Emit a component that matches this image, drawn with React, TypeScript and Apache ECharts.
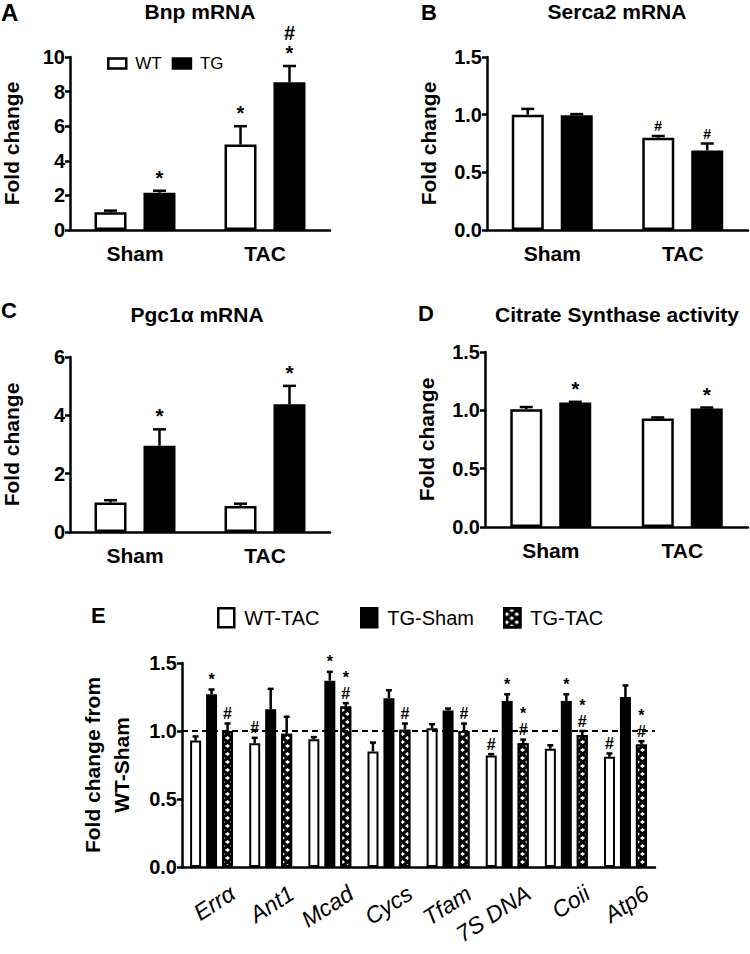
import React, { useEffect, useRef } from 'react';
import * as echarts from 'echarts';

const FONT = '"Liberation Sans", Arial, Helvetica, sans-serif';
const NARROW = '"Liberation Sans Narrow", "Arial Narrow", "Liberation Sans", Arial, sans-serif';

// ---------- Panels A–D ----------
const groups = ['Sham', 'TAC'];

const bnpWT = [1.02, 4.94];
const bnpWTErr = [0.1, 1.06];
const bnpTG = [2.15, 8.54];
const bnpTGErr = [0.12, 0.94];
const bnpWTMarks = ['', '*'];
const bnpTGMarks = ['*', '#\n*'];
const bnpTicks = [0, 2, 4, 6, 8, 10];

const sercaWT = [1.0, 0.8];
const sercaWTErr = [0.05, 0.015];
const sercaTG = [0.995, 0.69];
const sercaTGErr = [0.01, 0.06];
const sercaWTMarks = ['', '#'];
const sercaTGMarks = ['', '#'];
const sercaTicks = [0, 0.5, 1.0, 1.5];

const pgcWT = [1.01, 0.89];
const pgcWTErr = [0.08, 0.08];
const pgcTG = [2.96, 4.38];
const pgcTGErr = [0.56, 0.63];
const pgcWTMarks = ['', ''];
const pgcTGMarks = ['*', '*'];
const pgcTicks = [0, 2, 4, 6];

const csWT = [1.01, 0.93];
const csWTErr = [0.018, 0.009];
const csTG = [1.067, 1.015];
const csTGErr = [0.006, 0.009];
const csWTMarks = ['', ''];
const csTGMarks = ['*', '*'];
const csTicks = [0, 0.5, 1.0, 1.5];

// ---------- Panel E ----------
const genes = ['Errα', 'Ant1', 'Mcad', 'Cycs', 'Tfam', '7S DNA', 'Coii', 'Atp6'];
const wtTac = [0.93, 0.91, 0.94, 0.85, 1.02, 0.82, 0.87, 0.81];
const wtTacErr = [0.03, 0.04, 0.015, 0.065, 0.03, 0.01, 0.025, 0.025];
const tgSham = [1.27, 1.16, 1.37, 1.24, 1.15, 1.22, 1.22, 1.25];
const tgShamErr = [0.035, 0.15, 0.065, 0.06, 0.015, 0.05, 0.05, 0.085];
const tgTac = [1.0, 0.98, 1.18, 1.01, 1.0, 0.91, 0.97, 0.9];
const tgTacErr = [0.055, 0.125, 0.025, 0.045, 0.055, 0.027, 0.03, 0.025];
const wtTacMarks = ['', '#', '', '', '', '#', '', '#'];
const tgShamMarks = ['*', '', '*', '', '', '*', '*', ''];
const tgTacMarks = ['#', '', '*\n#', '#', '#', '*\n#', '*\n#', '*\n#'];
const eTicks = [0, 0.5, 1.0, 1.5];
const eLegend = ['WT-TAC', 'TG-Sham', 'TG-TAC'];

const WHITE_BAR = { color: '#fff', borderColor: '#000', borderWidth: 2.5 };
const BLACK_BAR = { color: '#000', borderColor: '#000', borderWidth: 2.5 };
const DECAL = {
  symbol: 'diamond',
  symbolSize: 1,
  color: '#fff',
  dashArrayX: [[5, 5], [0, 5, 5, 0]],
  dashArrayY: [4, 0],
};

function errSeries(
  axisIdx: number,
  values: number[],
  errs: number[],
  marks: string[],
  offset: number,
  capW: number,
  lineW: number,
  markFont: string,
  spacing: number,
  gap: number
) {
  return {
    type: 'custom',
    xAxisIndex: axisIdx,
    yAxisIndex: axisIdx,
    z: 10,
    silent: true,
    data: values.map((v, i) => [i, v, errs[i]]),
    renderItem: (params: any, api: any) => {
      const i = api.value(0);
      const v = api.value(1);
      const e = api.value(2);
      const base = api.coord([i, v]);
      const x = base[0] + offset;
      const yTop = base[1];
      const yErr = api.coord([i, v + e])[1];
      const st = { stroke: '#000', lineWidth: lineW };
      const children: any[] = [
        { type: 'line', shape: { x1: x, y1: yTop, x2: x, y2: yErr }, style: st },
        { type: 'line', shape: { x1: x - capW / 2, y1: yErr, x2: x + capW / 2, y2: yErr }, style: st },
      ];
      const m = marks[params.dataIndex];
      if (m) {
        const lines = m.split('\n').reverse();
        lines.forEach((t, j) => {
          children.push({
            type: 'text',
            x,
            y: yErr - gap - j * spacing,
            style: {
              text: t,
              font: markFont,
              fill: '#000',
              align: 'center',
              verticalAlign: 'bottom',
              textAlign: 'center',
              textVerticalAlign: 'bottom',
            },
          });
        });
      }
      return { type: 'group', children };
    },
  };
}

function fmt1(v: number) {
  return v.toFixed(1);
}

type PanelCfg = {
  grid: { left: number; top: number; width: number; height: number };
  ticks: number[];
  decimals: boolean;
  wt: number[];
  wtErr: number[];
  tg: number[];
  tgErr: number[];
  wtMarks: string[];
  tgMarks: string[];
  markFont: string;
  spacing: number;
};

export default function App() {
  const ref = useRef<HTMLDivElement>(null);

  useEffect(() => {
    if (!ref.current) return;
    const chart = echarts.init(ref.current, undefined, { renderer: 'svg' });

    const axisLine = { show: true, lineStyle: { color: '#000', width: 2.5 } };
    const grids: any[] = [];
    const xAxes: any[] = [];
    const yAxes: any[] = [];
    const series: any[] = [];

    const panels: PanelCfg[] = [
      {
        grid: { left: 68, top: 57, width: 262, height: 173 },
        ticks: bnpTicks, decimals: false,
        wt: bnpWT, wtErr: bnpWTErr, tg: bnpTG, tgErr: bnpTGErr,
        wtMarks: bnpWTMarks, tgMarks: bnpTGMarks,
        markFont: `bold 20px ${FONT}`, spacing: 20,
      },
      {
        grid: { left: 487, top: 57, width: 261, height: 173 },
        ticks: sercaTicks, decimals: true,
        wt: sercaWT, wtErr: sercaWTErr, tg: sercaTG, tgErr: sercaTGErr,
        wtMarks: sercaWTMarks, tgMarks: sercaTGMarks,
        markFont: `bold 14px ${FONT}`, spacing: 14,
      },
      {
        grid: { left: 67, top: 357, width: 263, height: 175 },
        ticks: pgcTicks, decimals: false,
        wt: pgcWT, wtErr: pgcWTErr, tg: pgcTG, tgErr: pgcTGErr,
        wtMarks: pgcWTMarks, tgMarks: pgcTGMarks,
        markFont: `bold 21px ${FONT}`, spacing: 20,
      },
      {
        grid: { left: 485, top: 352, width: 263, height: 175 },
        ticks: csTicks, decimals: true,
        wt: csWT, wtErr: csWTErr, tg: csTG, tgErr: csTGErr,
        wtMarks: csWTMarks, tgMarks: csTGMarks,
        markFont: `bold 21px ${FONT}`, spacing: 20,
      },
    ];

    panels.forEach((p, k) => {
      grids.push({ ...p.grid, containLabel: false });
      xAxes.push({
        type: 'category',
        gridIndex: k,
        data: groups,
        axisLine,
        axisTick: { show: false },
        axisLabel: { fontFamily: FONT, fontSize: 21, fontWeight: 'bold', color: '#000', margin: 13 },
      });
      yAxes.push({
        type: 'value',
        gridIndex: k,
        min: p.ticks[0],
        max: p.ticks[p.ticks.length - 1],
        interval: p.ticks[1] - p.ticks[0],
        name: 'Fold change',
        nameLocation: 'middle',
        nameGap: 48,
        nameTextStyle: { fontFamily: FONT, fontSize: 21, fontWeight: 'bold', color: '#000' },
        axisLine,
        axisTick: { show: true, length: 5, lineStyle: { color: '#000', width: 2.5 } },
        splitLine: { show: false },
        axisLabel: {
          fontFamily: FONT, fontSize: 20, fontWeight: 'bold', color: '#000', margin: 5,
          formatter: p.decimals ? fmt1 : undefined,
        },
      });
      series.push({
        type: 'bar', name: 'WT', xAxisIndex: k, yAxisIndex: k,
        barWidth: 32, barGap: '53%', data: p.wt, itemStyle: WHITE_BAR, silent: true,
      });
      series.push({
        type: 'bar', name: 'TG', xAxisIndex: k, yAxisIndex: k,
        barWidth: 32, barGap: '53%', data: p.tg, itemStyle: BLACK_BAR, silent: true,
      });
      series.push(errSeries(k, p.wt, p.wtErr, p.wtMarks, -24.5, 13, 2.5, p.markFont, p.spacing, 3));
      series.push(errSeries(k, p.tg, p.tgErr, p.tgMarks, 24.5, 13, 2.5, p.markFont, p.spacing, 3));
    });

    // Panel E
    const kE = 4;
    grids.push({ left: 182, top: 663, width: 473, height: 204 });
    xAxes.push({
      type: 'category', gridIndex: kE, data: genes,
      axisLine, axisTick: { show: false }, axisLabel: { show: false },
    });
    yAxes.push({
      type: 'value', gridIndex: kE,
      min: eTicks[0], max: eTicks[eTicks.length - 1], interval: eTicks[1] - eTicks[0],
      name: 'Fold change from\nWT-Sham',
      nameLocation: 'middle',
      nameGap: 46,
      nameTextStyle: { fontFamily: FONT, fontSize: 21, fontWeight: 'bold', color: '#000', lineHeight: 29 },
      axisLine,
      axisTick: { show: true, length: 5, lineStyle: { color: '#000', width: 2.5 } },
      splitLine: { show: false },
      axisLabel: { fontFamily: FONT, fontSize: 20, fontWeight: 'bold', color: '#000', margin: 5, formatter: fmt1 },
    });
    const eBarW = 11;
    const eGap = '45%';
    series.push({
      type: 'bar', name: 'WT-TAC', xAxisIndex: kE, yAxisIndex: kE,
      barWidth: eBarW, barGap: eGap, data: wtTac, silent: true,
      itemStyle: { color: '#fff', borderColor: '#000', borderWidth: 2 },
      markLine: {
        silent: true, symbol: 'none', label: { show: false },
        lineStyle: { color: '#000', width: 2, type: [6, 4] },
        data: [{ yAxis: 1 }],
      },
    });
    series.push({
      type: 'bar', name: 'TG-Sham', xAxisIndex: kE, yAxisIndex: kE,
      barWidth: eBarW, barGap: eGap, data: tgSham, silent: true,
      itemStyle: { color: '#000', borderColor: '#000', borderWidth: 2 },
    });
    series.push({
      type: 'bar', name: 'TG-TAC', xAxisIndex: kE, yAxisIndex: kE,
      barWidth: eBarW, barGap: eGap, data: tgTac, silent: true,
      itemStyle: { color: '#000', borderColor: '#000', borderWidth: 2, decal: DECAL },
    });
    const eOff = 16;
    const eMarkFont = `bold 16px ${FONT}`;
    series.push(errSeries(kE, wtTac, wtTacErr, wtTacMarks, -eOff, 6, 2.5, eMarkFont, 16, 2));
    series.push(errSeries(kE, tgSham, tgShamErr, tgShamMarks, 0, 6, 2.5, eMarkFont, 16, 2));
    series.push(errSeries(kE, tgTac, tgTacErr, tgTacMarks, eOff, 6, 2.5, eMarkFont, 16, 2));

    const txt = (text: string, x: number, y: number, size: number, align = 'left') => ({
      type: 'text',
      x,
      y,
      silent: true,
      style: {
        text,
        font: `bold ${size}px ${FONT}`,
        fill: '#000',
        align,
        textAlign: align,
        verticalAlign: 'top',
        textVerticalAlign: 'top',
      },
    });

    const eLeg = (idx: number, left: number, itemStyle: any) => ({
      left, top: 607, padding: 0, itemWidth: 16, itemHeight: 19,
      selectedMode: false, icon: 'rect',
      textStyle: { fontFamily: NARROW, fontSize: 20, color: '#000', padding: [0, 0, 0, 5] },
      data: [{ name: eLegend[idx], itemStyle }],
    });

    const option: any = {
      animation: false,
      backgroundColor: '#fff',
      grid: grids,
      xAxis: xAxes,
      yAxis: yAxes,
      series,
      legend: [
        {
          left: 107, top: 55, padding: 0, itemWidth: 18, itemHeight: 10, itemGap: 10,
          selectedMode: false, icon: 'rect',
          textStyle: { fontFamily: FONT, fontSize: 17, color: '#000', padding: [0, 0, 0, 4] },
          data: [
            { name: 'WT', itemStyle: { color: '#fff', borderColor: '#000', borderWidth: 2.5 } },
            { name: 'TG', itemStyle: { color: '#000', borderColor: '#000', borderWidth: 2.5 } },
          ],
        },
        eLeg(0, 217, { color: '#fff', borderColor: '#000', borderWidth: 2.5 }),
        eLeg(1, 360, { color: '#000', borderColor: '#000', borderWidth: 2.5 }),
        eLeg(2, 503, { color: '#000', borderColor: '#000', borderWidth: 2.5, decal: DECAL }),
      ],
    };

    chart.setOption(option);

    // Rotated category labels for panel E, placed through the axis scale
    const ROT = (33 * Math.PI) / 180;
    const geneLabels = genes.map((g, i) => {
      const p = chart.convertToPixel({ xAxisIndex: kE, yAxisIndex: kE } as any, [i, 0]) as number[];
      return {
        type: 'text',
        id: 'gene' + i,
        x: p[0] + 21,
        y: p[1] + 24,
        rotation: ROT,
        silent: true,
        style: {
          text: g,
          font: `italic 23px ${FONT}`,
          fill: '#000',
          align: 'right',
          verticalAlign: 'middle',
          textAlign: 'right',
          textVerticalAlign: 'middle',
        },
      };
    });

    chart.setOption({
      graphic: [
        txt('A', 1, 0, 24),
        txt('Bnp mRNA', 200, 1, 21, 'center'),
        txt('B', 421, 1, 22),
        txt('Serca2 mRNA', 617, 1, 21, 'center'),
        txt('C', 1, 299, 22),
        txt('Pgc1α mRNA', 197, 304, 21, 'center'),
        txt('D', 418, 302, 22),
        txt('Citrate Synthase activity', 617, 304, 21, 'center'),
        txt('E', 91, 604, 22),
        ...geneLabels,
      ],
    });

    return () => chart.dispose();
  }, []);

  return (
    <div
      ref={ref}
      style={{ position: 'absolute', left: 0, top: 0, width: 750, height: 954, background: '#fff' }}
    />
  );
}
